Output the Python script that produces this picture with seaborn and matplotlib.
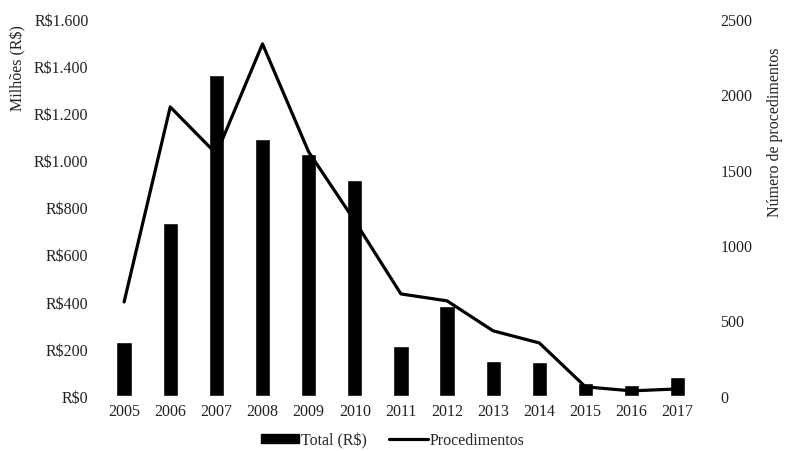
import matplotlib
matplotlib.use("Agg")
import matplotlib.pyplot as plt
import matplotlib.ticker as mticker
from matplotlib.patches import Patch
from matplotlib.lines import Line2D
import seaborn as sns
import pandas as pd

years = [2005, 2006, 2007, 2008, 2009, 2010, 2011, 2012, 2013, 2014, 2015, 2016, 2017]
total_milhoes = [229, 734, 1362, 1091, 1027, 917, 212, 382, 148, 144, 55, 47, 81]
procedimentos = [623, 1916, 1605, 2334, 1618, 1160, 676, 630, 431, 351, 60, 33, 46]

left_ticks = [0, 200, 400, 600, 800, 1000, 1200, 1400, 1600]
right_ticks = [0, 500, 1000, 1500, 2000, 2500]

df = pd.DataFrame({"ano": years, "total": total_milhoes, "proc": procedimentos})

sns.set_theme(style="white")
plt.rcParams["font.family"] = ["Liberation Serif", "DejaVu Serif"]
FS = 11.5
TXT = "#222222"

fig = plt.figure(figsize=(7.85, 4.52), dpi=100)
ax = fig.add_axes([0.1287, 0.122, 0.764, 0.834])

sns.barplot(data=df, x="ano", y="total", native_scale=True, width=0.33,
            color="black", saturation=1, ax=ax)
ax.set_xlim(2004.5, 2017.5)
ax.set_ylim(0, 1600)
ax.set_yticks(left_ticks)
ax.yaxis.set_major_formatter(
    mticker.FuncFormatter(lambda v, p: "R$" + f"{int(v):,}".replace(",", ".")))
ax.set_xticks(years)
ax.set_xticklabels([str(y) for y in years])
ax.set_xlabel("")
ax.set_ylabel("")
ax.tick_params(axis="y", length=0, labelsize=FS, colors=TXT, pad=9)
ax.tick_params(axis="x", length=0, labelsize=FS, colors=TXT, pad=5)

ax2 = ax.twinx()
sns.lineplot(data=df, x="ano", y="proc", color="black", linewidth=2.3, ax=ax2)
ax2.set_ylim(0, 2500)
ax2.set_yticks(right_ticks)
ax2.set_ylabel("")
ax2.tick_params(axis="y", length=0, labelsize=FS, colors=TXT, pad=14)
ax2.set_xlim(2004.5, 2017.5)

for a in (ax, ax2):
    for s in a.spines.values():
        s.set_visible(False)
    a.grid(False)

fig.text(0.023, 0.945, "Milhões (R$)", rotation=90, ha="center", va="top",
         fontsize=FS, color=TXT)
fig.text(0.987, 0.708, "Número de procedimentos", rotation=90, ha="center",
         va="center", fontsize=FS, color=TXT)

handles = [Patch(facecolor="black", edgecolor="black", label="Total (R$)"),
           Line2D([0], [0], color="black", linewidth=2.3, label="Procedimentos")]
fig.legend(handles=handles, loc="center", bbox_to_anchor=(0.5, 0.024), ncol=2,
           frameon=False, fontsize=FS, handlelength=2.4, handleheight=0.55,
           handletextpad=0.1, columnspacing=1.4)

fig.savefig("out.png", dpi=100)
